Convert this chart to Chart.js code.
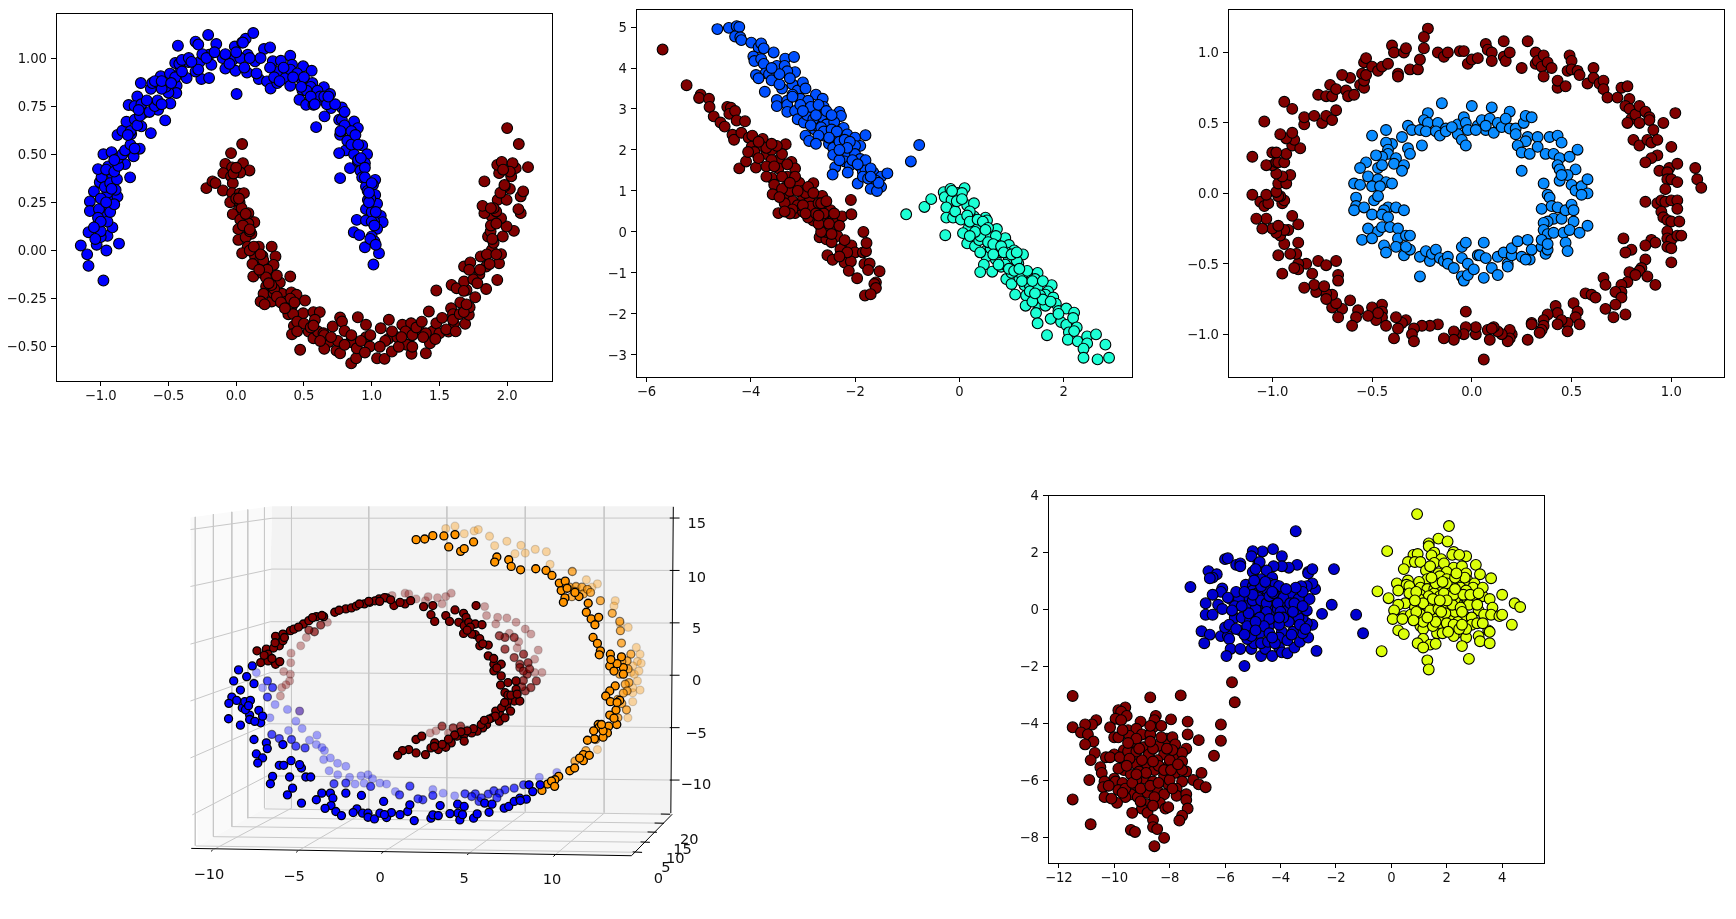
<!DOCTYPE html>
<html>
<head>
<meta charset="utf-8">
<title>Clustering toy datasets</title>
<script src="https://cdn.jsdelivr.net/npm/chart.js@4/dist/chart.umd.min.js"></script>
<style>
html, body { margin: 0; padding: 0; background: #fff; overflow: hidden; }
canvas { position: absolute; filter: blur(0.35px); }
canvas#spiral { filter: blur(0.7px); }
</style>
</head>
<body>
<script>
// two moons
const moonBlue = [[-1.147,.026],[-1.09,-.08],[-.98,-.156],[-1.09,.095],[-1.1,-.02],[-.865,.036],[-.958,0],[-1.03,.03],[-.95,.076],[-.914,.12],[-1.08,.255],[-1.05,.307],[-1.08,.205],[-1.03,.128],[-.98,.182],[-.945,.234],[-1.013,.215],[-.93,.286],[-.876,.28],[-.89,.315],[-1.007,.355],[-.994,.38],[-1.02,.423],[-.945,.437],[-.914,.393],[-.98,.5],[-.92,.511],[-.783,.38],[-.82,.449],[-.757,.489],[-.712,.529],[-.775,.605],[-.876,.6],[-.84,.622],[-.81,.669],[-.748,.68],[-.7,.645],[-.63,.61],[-.794,.756],[-.73,.8],[-.685,.714],[-.704,.87],[-.63,.84],[-.576,.731],[-.524,.676],[-.486,.764],[-.557,.905],[-.489,.919],[-.44,.856],[-.442,.818],[-.412,.934],[-.366,.896],[-.45,.974],[-.43,1.064],[-.352,.979],[-.3,1.085],[-.27,.979],[-.257,.891],[-.2,.896],[-.207,1.12],[-.147,1.073],[-.2,1.017],[-.183,.965],[-.08,.945],[-.025,.991],[.003,.813],[-.005,.934],[.08,.925],[-.01,1.06],[.07,1.1],[.126,1.13],[.044,1.081],[.085,1.017],[.139,.983],[.167,.891],[.205,1.047],[.25,1.055],[.227,.879],[.254,.842],[.303,.87],[.27,.983],[.33,.986],[.317,.931],[.399,1.012],[.412,.965],[.363,.896],[.399,.856],[.494,.957],[.483,.887],[.557,.934],[.489,.832],[.562,.87],[.467,.783],[.516,.757],[.57,.757],[.57,.792],[.647,.849],[.63,.783],[.693,.813],[.7,.74],[.652,.697],[.59,.641],[.78,.743],[.76,.679],[.87,.67],[.898,.636],[.767,.601],[.863,.575],[.93,.546],[.808,.52],[.966,.5],[.76,.506],[.84,.428],[.898,.463],[.95,.454],[.917,.414],[.767,.376],[1.026,.367],[.958,.333],[1.01,.341],[1.026,.289],[.972,.263],[1.04,.243],[.958,.215],[1.067,.18],[1.081,.147],[1.018,.151],[.89,.159],[.958,.156],[1.04,.113],[.868,.095],[.909,.08],[1,.073],[1.021,.047],[.95,.017],[1.054,-.014],[1.013,-.073],
  [-1.02,.17],[-1,.07],[-1,.1],[-1.04,.06],[-.95,.15],[-.93,.2],[-.9,.24],[-.95,.3],[-1,.27],[-.97,.33],[-.93,.35],[-.88,.37],[-.96,.42],[-.9,.41],[-.87,.44],[-.87,.48],[-.84,.5],[-.82,.52],[-.78,.55],[-.75,.53],[-.78,.62],[-.73,.65],[-.71,.7],[-.75,.75],[-.7,.76],[-.64,.72],[-.6,.75],[-.58,.78],[-.55,.76],[-.5,.82],[-.52,.85],[-.55,.84],[-.62,.87],[-.6,.88],[-.45,.9],[-.42,.97],[-.4,.99],[-.35,1],[-.3,.93],[-.28,.94],[-.25,1.02],[-.28,1.07],[-.1,1],[-.05,.97],[.03,1],[.05,1.08],[.1,1],[.15,.92],[.25,.95],[.28,.9],[.4,.94],[.45,.92],[.55,.85],[.5,.9],[.52,.83],[.6,.83],[.62,.8],[.65,.8],[.67,.76],[.73,.76],[.78,.68],[.8,.65],[.77,.62],[.85,.62],[.82,.57],[.87,.5],[.9,.47],[.92,.48],[.95,.43],[.93,.38],[.97,.31],[.99,.27],[1,.2],[.98,.25],[1,.15],[1.03,.2],[.99,.06],[1.03,.03],
  [-1,.15],[-1.05,.12],[-.96,.25],[-.92,.32],[-.9,.47],[-.8,.6],[-.72,.73],[-.66,.78],[-.55,.88],[-.48,.87],[-.4,.93],[-.33,.98],[-.22,1],[-.16,1.03],[-.08,1.02],[0,1.03],[.06,.95],[.18,1],[.32,.88],[.35,.95],[.42,.9],[.48,.85],[.55,.8],[.58,.76],[.68,.8],[.8,.72],[.85,.55],[.88,.6],[.9,.55],[.95,.38],[1,.35],[.98,.3],[1.02,.13]];
const moonRed = [[-.22,.324],[-.175,.359],[-.153,.35],[-.098,.312],[.044,.553],[-.038,.506],[-.08,.45],[-.03,.432],[.05,.454],[.098,.416],[-.095,.402],[.03,.405],[-.038,.385],[-.025,.35],[-.03,.298],[.025,.295],[.057,.298],[-.044,.251],[.025,.25],[.016,.208],[-.025,.189],[.09,.194],[.03,.16],[.106,.151],[.134,.147],[.016,.111],[.112,.087],[.016,.055],[.07,.069],[.085,.02],[.167,.02],[.262,.02],[.044,-.014],[.139,-.031],[.194,-.028],[.29,-.031],[.276,-.075],[.153,-.066],[.126,-.135],[.194,-.118],[.257,-.139],[.399,-.135],[.322,-.166],[.221,-.187],[.202,-.225],[.18,-.265],[.262,-.265],[.339,-.225],[.276,-.222],[.407,-.218],[.445,-.23],[.371,-.265],[.508,-.26],[.412,-.288],[.385,-.331],[.494,-.326],[.57,-.32],[.617,-.32],[.581,-.36],[.426,-.392],[.412,-.435],[.535,-.421],[.472,-.516],[.57,-.456],[.603,-.421],[.644,-.43],[.712,-.395],[.767,-.348],[.781,-.369],[.898,-.347],[.958,-.386],[.8,-.418],[.685,-.475],[.65,-.511],[.74,-.52],[.767,-.534],[.844,-.475],[.849,-.586],[.885,-.56],[.89,-.508],[.958,-.451],[.986,-.499],[1.067,-.404],[1.127,-.36],[1.122,-.459],[1.04,-.56],[1.095,-.563],[1.149,-.525],[1.19,-.451],[1.226,-.386],[1.259,-.49],[1.294,-.537],[1.291,-.378],[1.349,-.412],[1.4,-.534],[1.43,-.482],[1.422,-.317],[1.45,-.421],[1.477,-.378],[1.477,-.208],[1.567,-.421],[1.586,-.3],[1.6,-.331],[1.69,-.381],[1.608,-.381],[1.717,-.334],[1.654,-.27],[1.723,-.295],[1.59,-.179],[1.627,-.196],[1.7,-.205],[1.764,-.243],[1.682,-.161],[1.682,-.083],[1.728,-.062],[1.805,-.031],[1.795,-.123],[1.845,-.083],[1.845,-.2],[1.927,-.153],[1.94,-.066],[1.887,.003],[1.955,-.019],[1.859,.073],[1.968,.073],[1.878,.099],[2.05,.102],[1.996,.125],[1.955,.168],[1.887,.177],[1.832,.194],[1.919,.203],[1.818,.232],[1.93,.263],[1.996,.263],[2.1,.194],[2.083,.215],[2.1,.281],[2.118,.307],[2.02,.32],[1.982,.333],[1.832,.359],[1.941,.402],[2.03,.385],[2.063,.428],[1.927,.445],[1.96,.46],[2.04,.454],[2.154,.433],[2.086,.553],[2,.636],
  [.92,-.47],[.99,-.44],[.75,-.47],[.65,-.44],[.7,-.45],[1.1,-.47],[1.2,-.5],[1.25,-.42],[1.3,-.44],[1.33,-.4],[1.4,-.43],[1.37,-.37],[1.5,-.43],[1.52,-.35],[1.6,-.36],[1.55,-.41],[1.65,-.33],[1.68,-.21],[1.75,-.15],[1.72,-.1],[1.8,-.1],[1.85,-.02],[1.9,.04],[1.88,.13],[1.9,.22],[1.95,.3],[2.02,.41],[.28,-.2],[.3,-.24],[.4,-.25],[.42,-.33],[.45,-.37],[.5,-.38],[.55,-.4],[.1,.1],[.09,.14],[.1,0],[.2,-.05],[.23,-.1],[.04,.22],[.05,.13],[0,.27],[.3,-.13],[.26,-.18],[.22,-.14],
  [-.02,.4],[0,.43],[.02,.27],[.07,.19],[.1,.11],[.13,.02],[.12,-.07],[.18,-.02],[.17,-.1],[.24,-.17],[.21,-.28],[.33,-.27],[.36,-.3],[.43,-.27],[.45,-.42],[.57,-.39],[.62,-.47],[.8,-.49],[.85,-.44],[.95,-.53],[1.06,-.5],[1.15,-.42],[1.22,-.45],[1.3,-.5],[1.38,-.45],[1.47,-.46],[1.62,-.42],[1.68,-.32],[1.7,-.28],[1.78,-.17],[1.87,-.07],[1.92,-.02],[1.89,.06],[1.92,.14],[1.88,.22],[1.98,.34],[1.97,.42]];
const moonXTicks = [-1, -0.5, 0, 0.5, 1, 1.5, 2];
const moonXLabels = ['−1.0', '−0.5', '0.0', '0.5', '1.0', '1.5', '2.0'];
const moonYTicks = [-0.5, -0.25, 0, 0.25, 0.5, 0.75, 1];
const moonYLabels = ['−0.50', '−0.25', '0.00', '0.25', '0.50', '0.75', '1.00'];

// anisotropic blobs
const anisoRed = [[-5.69,4.45],[-5.23,3.58],[-4.96,3.35],[-4.99,3.27],[-4.8,3.25],[-4.79,3.05],[-4.71,2.82],[-4.45,3.05],[-4.38,3.03],[-4.41,2.88],[-4.3,2.95],[-4.27,2.72],[-4.11,2.7],[-4.58,2.67],[-4.5,2.57],[-4.35,2.37],[-4.32,2.25],[-4.18,2.42],[-4.04,2.3],[-3.97,2.35],[-3.77,2.27],[-3.8,2.1],[-3.33,2.14],[-3.98,2.08],[-3.93,1.95],[-3.7,1.9],[-3.6,2],[-3.45,1.77],[-3.22,1.71],[-4.22,1.55],[-4.09,1.72],[-3.9,1.57],[-3.6,1.75],[-3.47,1.55],[-3.6,1.32],[-3.3,1.35],[-3.55,1.15],[-3.29,1.15],[-3.07,1.2],[-2.8,1.19],[-3.58,.92],[-3.29,.9],[-3,.8],[-2.87,.83],[-2.63,.88],[-2.08,.78],[-3.47,.46],[-3.15,.46],[-3,.5],[-2.85,.62],[-2.55,.58],[-2.47,.53],[-2.8,.28],[-2.58,.28],[-2.42,.3],[-2.25,.38],[-2.07,.43],[-2.4,.1],[-2.65,.1],[-2.68,-.13],[-2.55,-.18],[-2.34,-.1],[-1.84,0],[-2.55,0],[-2.2,-.32],[-2.07,-.33],[-2.28,-.42],[-2,-.5],[-1.85,-.5],[-2.53,-.57],[-2.43,-.68],[-2.2,-.75],[-2.08,-.72],[-1.79,-.47],[-1.78,-.27],[-1.82,-.78],[-1.72,-.77],[-2.12,-.95],[-1.75,-.93],[-1.96,-1.13],[-1.53,-.96],[-1.6,-1.23],[-1.63,-1.27],[-1.6,-1.37],[-1.81,-1.55],[-1.7,-1.52],[-3,1],[-3.2,.75],[-2.95,.95],[-2.7,.7],[-2.6,.45],[-3.35,.7],[-3.1,.65],[-3.25,1],[-3.4,1.35],[-3.15,1.55],[-3.7,1.6],[-3.85,1.8],[-3.4,1.9],[-2.9,.35],[-2.75,.45],[-2.65,0],[-2.45,-.25],[-3.2,.55],[-3.4,1.05],
  [-3.3,1.65],[-3.55,1.6],[-3.7,1.35],[-3.15,1.35],[-3.45,.85],[-3.1,1],[-2.9,1.1],[-3,.65],[-2.8,.95],[-2.65,.7],[-2.55,.75],[-2.4,.45],[-2.7,.2],[-2.5,.2],[-2.3,.15],[-2.45,-.05],[-2.2,-.2],[-3.25,.45],[-3.35,.5],[-3.7,2.05],[-3.5,2.1],[-3.6,2.15],[-4.05,1.95],[-3.85,2.2],[-3.25,1.2],[-2.95,.45],[-2.7,.4],[-2.15,-.5],[-2.3,-.6]];
const anisoBlue = [[-4.64,4.95],[-4.42,4.98],[-4.27,5.02],[-4.22,5],[-4.3,4.77],[-4.2,4.75],[-4.18,4.68],[-3.99,4.62],[-3.85,4.5],[-3.8,4.6],[-3.75,4.48],[-3.95,4.28],[-3.93,4.17],[-3.8,4.22],[-3.75,4.1],[-3.56,4.38],[-3.34,4.23],[-3.17,4.27],[-3.5,4.05],[-3.35,4.05],[-3.15,3.9],[-3.3,3.92],[-3.72,3.87],[-3.65,3.85],[-3.6,3.7],[-3.9,3.83],[-3.85,3.75],[-3.4,3.5],[-3.73,3.42],[-3.2,3.6],[-3.1,3.45],[-3,3.65],[-2.95,3.5],[-2.75,3.35],[-3.5,3.22],[-3.3,3.2],[-3.05,3.25],[-2.9,3.2],[-2.62,3.25],[-3.5,3.07],[-3.3,3.1],[-3.3,2.93],[-3.15,2.95],[-2.8,3],[-3.1,2.75],[-2.98,2.67],[-2.92,2.85],[-2.65,2.8],[-2.3,2.93],[-2.27,2.83],[-2.55,2.62],[-2.4,2.68],[-2.77,2.5],[-2.95,2.35],[-2.88,2.22],[-2.6,2.35],[-2.4,2.3],[-2.22,2.54],[-2.5,2.15],[-2.42,2.05],[-2.42,1.88],[-2.25,2.15],[-2.15,2.38],[-2,2.3],[-1.9,2.1],[-1.8,2.36],[-2,2.1],[-2.14,1.92],[-2,1.9],[-1.9,1.78],[-2.2,1.72],[-2.1,1.62],[-1.9,1.6],[-1.8,1.75],[-2.38,1.58],[-2.43,1.4],[-2.14,1.45],[-1.85,1.47],[-1.8,1.5],[-1.95,1.18],[-1.65,1.45],[-1.5,1.35],[-1.38,1.43],[-1.6,1.25],[-1.5,1.1],[-1.7,1.05],[-1.58,1],[-.93,1.72],[-.77,2.12],[-2.75,2.6],[-2.6,3.05],[-2.8,2.75],
  [-3.2,3.35],[-3.05,3.1],[-2.85,3.05],[-3,2.95],[-2.75,2.85],[-2.85,2.6],[-2.65,2.55],[-2.6,2.45],[-2.45,2.5],[-2.35,2.45],[-2.5,2.3],[-2.3,2.2],[-2.2,2.25],[-2.1,2.2],[-2.15,2.05],[-2.05,1.75],[-1.95,1.65],[-1.85,1.35],[-1.75,1.3],[-1.7,1.55],[-1.55,1.2],[-3.45,3.6],[-3.25,3.75],[-3.45,3.85],[-3.6,4],[-3.2,3.3],[-2.7,3.1],[-2.55,2.95],[-2.45,2.85],[-2.7,2.35],[-2.75,2.15],[-2.3,1.75],[-2.3,2],[-1.7,1.35]];
const anisoTeal = [[-1.02,.43],[-.67,.61],[-.54,.8],[-.3,.97],[-.28,.85],[-.17,1.05],[-.15,.78],[-.25,.6],[-.25,.35],[-.27,-.08],[-.12,.35],[-.03,.95],[.1,1.07],[.05,.95],[-.14,1],[.15,.65],[.28,.7],[-.08,.5],[.03,.3],[.15,0],[.17,.08],[.28,.38],[.3,.3],[.5,.35],[.53,.28],[.72,.07],[.07,-.03],[.37,.03],[.6,-.13],[.15,-.28],[.3,-.35],[.7,-.33],[.88,-.15],[.95,-.32],[.38,-.2],[.5,-.47],[.52,-.6],[.7,-.67],[.95,-.65],[1.05,-.45],[1.22,-.55],[.47,-.8],[.4,-.98],[.63,-.97],[.8,-.85],[.88,-.8],[1.13,-.77],[1.1,-.7],[.9,-1.15],[1,-1.27],[1.15,-1.12],[1.25,-1.3],[1.4,-1.05],[1.5,-1],[1.45,-1.15],[1.35,-1.3],[1.5,-1.35],[1.77,-1.3],[1.7,-1.45],[1.07,-1.53],[1.28,-1.55],[1.65,-1.53],[1.8,-1.6],[1.27,-1.8],[1.5,-1.75],[1.65,-1.8],[1.85,-1.75],[1.47,-1.98],[1.9,-1.93],[1.75,-2.12],[1.5,-2.23],[2.05,-1.87],[2.2,-1.97],[1.95,-2.2],[2.05,-2.27],[2.18,-2.1],[2.1,-2.45],[2.25,-2.33],[2.2,-2.42],[1.68,-2.52],[2.08,-2.63],[2.27,-2.67],[2.45,-2.55],[2.62,-2.5],[2.45,-2.72],[2.38,-2.85],[2.8,-2.75],[2.38,-3.07],[2.65,-3.11],[2.87,-3.07],[.35,.1],[.7,-.1],[.4,-.5],[.75,-.5],[.9,-.5],[.6,-.4],[1,-1],[1.2,-1.05],[1.3,-.95],[1.55,-1.55],[1.4,-1.7],[.2,.5],
  [-.05,.75],[.05,.8],[.15,.4],[.2,.25],[.35,.3],[.45,.25],[.55,.1],[.4,-.1],[.55,-.25],[.65,-.3],[.8,-.35],[.85,-.5],[.65,-.55],[1,-.55],[1.1,-.5],[.75,-.8],[.95,-.9],[1.05,-.95],[1.15,-.9],[1.2,-1.2],[1.4,-1.2],[1.6,-1.2],[1.6,-1.65],[1.75,-1.7],[1.35,-1.45],[1.45,-1.5],[1.9,-2],[.3,0],[.2,-.1],[.5,.05]];
const anisoXTicks = [-6, -4, -2, 0, 2];
const anisoXLabels = ['−6', '−4', '−2', '0', '2'];
const anisoYTicks = [-3, -2, -1, 0, 1, 2, 3, 4, 5];
const anisoYLabels = ['−3', '−2', '−1', '0', '1', '2', '3', '4', '5'];

// concentric rings
const ringRed = [[-.22,1.17],[-.24,1.11],[-.24,1.03],[-.17,1],[-.14,.97],[-.12,1],[-.06,1.01],[-.04,1.01],[-.02,.92],[0,.95],[.03,.96],[.07,1.06],[.08,1.02],[.1,1],[.1,.94],[.16,1.08],[.16,.97],[.17,.94],[.19,1],[.25,.89],[.28,1.08],[.32,.92],[.32,1],[.33,.94],[.35,.9],[.36,.83],[.36,.98],[.38,.93],[.4,.89],[.43,.75],[.43,.8],[.47,.76],[.49,.98],[.5,.94],[.48,.87],[.5,.88],[.53,.87],[.54,.84],[.58,.78],[.61,.89],[.61,.82],[.64,.78],[.66,.8],[.66,.74],[.68,.68],[.73,.68],[.75,.75],[.78,.76],[.79,.67],[.77,.62],[.79,.6],[.8,.53],[.78,.5],[.82,.56],[.84,.5],[.84,.62],[.87,.58],[.89,.54],[.89,.52],[.91,.45],[.96,.5],[1.02,.57],[.81,.38],[.84,.34],[.88,.38],[.9,.36],[.93,.38],[.93,.27],[.9,.25],[.87,.22],[.94,.16],[1,.33],[.99,.18],[.98,.15],[.98,.1],[1,.1],[1.03,.21],[1.12,.18],[1.13,.1],[1.15,.04],[1.03,.08],[.97,.03],[.87,-.06],[.93,-.07],[.95,-.05],[.97,-.06],[1,-.05],[1.03,-.05],[.95,-.13],[.96,-.17],[.98,-.19],[1,-.2],[1.03,-.11],[1.04,-.2],[.98,-.27],[.98,-.32],[1,-.33],[1.03,-.3],[1.05,-.3],[.9,-.33],[.92,-.35],[.98,-.38],[1,-.39],[1,-.49],[.76,-.32],[.8,-.4],[.77,-.42],[.87,-.37],[.87,-.47],[.85,-.53],[.84,-.55],[.79,-.56],[.78,-.63],[.82,-.58],[.88,-.59],[.92,-.65],[.66,-.6],[.67,-.65],[.75,-.65],[.75,-.7],[.72,-.7],[.75,-.74],[.72,-.79],[.57,-.71],[.6,-.72],[.62,-.74],[.67,-.82],[.71,-.88],[.77,-.86],[.51,-.78],[.53,-.84],[.52,-.88],[.54,-.93],[.48,-.92],[.42,-.8],[.43,-.85],[.45,-.9],[.43,-.93],[.48,-.98],[.38,-.86],[.36,-.9],[.36,-.94],[.3,-.92],[.3,-.93],[.35,-.97],[.34,-.99],[.28,-1.04],[.2,-1],[.19,-.97],[.19,-1.03],[.18,-1.05],[.15,-1],[.13,-.98],[.11,-.95],[.08,-.97],[.09,-1.04],[.1,-.96],[.02,-1],[.02,-.95],[.06,-1.18],[-.03,-.84],[-.03,-.95],[-.04,-1],[-.08,-1],[-.09,-.98],[-.09,-1.04],[-.14,-1.03],[-.17,-.93],[-.21,-.94],[-.25,-.94],[-.29,-.96],[-.3,-1],[-.29,-1.05],[-.33,-.9],[-.35,-.92],[-.37,-.96],[-.38,-.88],[-.39,-1.03],[-.45,-.79],[-.45,-.84],[-.45,-.88],[-.43,-.94],[-.5,-.81],[-.48,-.9],[-.47,-.85],[-.52,-.87],[-.57,-.83],[-.58,-.88],[-.6,-.94],[-.61,-.76],[-.65,-.82],[-.67,-.88],[-.7,-.81],[-.68,-.78],[-.7,-.72],[-.73,-.71],[-.73,-.75],[-.78,-.7],[-.79,-.65],[-.74,-.66],[-.67,-.58],[-.67,-.62],[-.84,-.67],[-.8,-.57],[-.77,-.48],[-.73,-.51],[-.68,-.48],[-.83,-.5],[-.87,-.5],[-.87,-.54],[-.89,-.53],[-.88,-.43],[-.91,-.43],[-.97,-.44],[-.95,-.57],[-.87,-.35],[-.94,-.36],[-.96,-.3],[-.92,-.26],[-.94,-.26],[-.98,-.28],[-1,-.25],[-1.05,-.25],[-.97,-.23],[-.87,-.22],[-.9,-.16],[-1.03,-.18],[-1.08,-.18],[-.95,-.07],[-.94,-.05],[-.96,-.02],[-1.06,-.06],[-1.04,-.09],[-1.02,-.07],[-1.03,-.01],[-1.1,-.01],[-.97,-.02],[-.98,.01],[-.95,.08],[-.97,.07],[-.93,.07],[-.91,.13],[-.95,.12],[-.98,.14],[-1,.2],[-1.03,.2],[-.98,.22],[-.97,.22],[-.94,.22],[-.93,.28],[-1.1,.26],[-1,.29],[-.98,.29],[-.9,.34],[-.86,.32],[-.89,.38],[-.93,.39],[-.96,.42],[-.9,.43],[-1.04,.51],[-.84,.49],[-.84,.54],[-.79,.55],[-.75,.5],[-.73,.55],[-.7,.52],[-.68,.59],[-.94,.65],[-.9,.6],[-.77,.7],[-.73,.69],[-.71,.77],[-.7,.69],[-.68,.74],[-.63,.73],[-.62,.69],[-.59,.7],[-.61,.82],[-.65,.84],[-.56,.77],[-.54,.75],[-.54,.8],[-.55,.85],[-.53,.84],[-.54,.93],[-.53,.96],[-.5,.9],[-.47,.87],[-.45,.9],[-.42,.92],[-.37,.85],[-.37,.83],[-.4,1.05],[-.39,1],[-.34,1],[-.33,1.03],[-.31,.88],[-.27,.88],[-.26,.95]];
const ringBlue = [[-.15,.64],[0,.62],[.1,.61],[.19,.58],[-.22,.57],[-.24,.52],[-.22,.5],[-.17,.5],[-.13,.46],[-.32,.48],[-.3,.45],[-.26,.45],[-.23,.44],[-.18,.44],[-.16,.41],[-.13,.44],[-.07,.49],[-.04,.54],[-.03,.5],[-.02,.45],[.03,.48],[.05,.52],[.07,.45],[.09,.53],[.11,.43],[.13,.5],[.15,.47],[.17,.53],[.19,.46],[.22,.46],[.26,.5],[.27,.55],[.3,.54],[.22,.42],[.28,.4],[.27,.37],[.33,.4],[.23,.34],[.25,.29],[.29,.28],[.33,.33],[.37,.28],[.39,.4],[.41,.28],[.43,.41],[.45,.36],[-.07,.42],[-.05,.38],[-.03,.34],[.02,.45],[.07,.48],[-.1,.47],[-.5,.41],[-.43,.45],[-.35,.4],[-.32,.32],[-.25,.34],[-.31,.28],[-.4,.35],[-.43,.36],[-.42,.31],[-.42,.28],[-.45,.26],[-.48,.27],[-.38,.25],[-.39,.21],[-.34,.2],[-.35,.16],[-.53,.22],[-.56,.18],[-.47,.18],[-.45,.2],[-.52,.12],[-.47,.1],[-.43,.08],[-.4,.07],[-.59,.07],[-.56,.06],[-.5,.05],[-.46,.05],[-.58,-.03],[-.58,-.09],[-.59,-.12],[-.54,-.1],[-.49,-.05],[-.47,-.02],[-.42,-.1],[-.44,-.12],[-.38,-.1],[-.34,-.12],[-.5,-.15],[-.45,-.15],[-.42,-.17],[-.52,-.25],[-.47,-.27],[-.45,-.24],[-.41,-.24],[-.37,-.25],[-.55,-.33],[-.5,-.32],[-.44,-.37],[-.43,-.42],[-.37,-.32],[-.33,-.3],[-.31,-.3],[-.38,-.38],[-.34,-.44],[-.31,-.4],[-.33,-.38],[-.26,-.45],[-.23,-.41],[-.21,-.48],[-.2,-.43],[-.18,-.4],[-.16,-.46],[-.14,-.48],[-.12,-.45],[-.12,-.5],[-.09,-.53],[-.05,-.38],[-.03,-.35],[-.05,-.46],[-.02,-.5],[.03,-.44],[.04,-.44],[.06,-.35],[.07,-.46],[.13,-.45],[.16,-.42],[.18,-.5],[.2,-.44],[.2,-.39],[.23,-.34],[.25,-.45],[.28,-.33],[.29,-.47],[.3,-.4],[.27,-.47],[.35,-.38],[.37,-.43],[.38,-.4],[-.26,-.59],[-.05,-.59],[-.04,-.62],[-.02,-.58],[.01,-.54],[.06,-.6],[.1,-.53],[.13,-.58],[.18,-.52],[.25,.16],[.36,.07],[.38,-.01],[.39,-.03],[.35,-.11],[.4,-.09],[.43,-.1],[.41,-.18],[.38,-.2],[.36,-.21],[.45,-.18],[.47,-.12],[.5,-.08],[.51,-.12],[.51,-.2],[.36,-.26],[.38,-.29],[.41,-.28],[.46,-.28],[.49,-.26],[.54,-.28],[.58,-.23],[.35,-.33],[.47,-.35],[.48,-.41],[.38,-.36],[.44,.25],[.49,.26],[.53,.31],[.43,.2],[.44,.17],[.52,.17],[.48,.13],[.44,.09],[.5,.06],[.52,.02],[.55,.05],[.58,.1],[.58,0],[.55,-.01],[.45,.13]];
const ringXTicks = [-1, -0.5, 0, 0.5, 1];
const ringXLabels = ['−1.0', '−0.5', '0.0', '0.5', '1.0'];
const ringYTicks = [-1, -0.5, 0, 0.5, 1];
const ringYLabels = ['−1.0', '−0.5', '0.0', '0.5', '1.0'];

// swiss roll seen in 3d as (x on the back wall, z)
// near = solid, mid = half faded, far = most faded
const rollOrangeNear = [[-1.97,12.94],[-1.42,13],[-.9,13.32],[-.19,13.29],[.12,12.24],[.88,11.82],[1.11,12.08],[.52,13.42],[1.71,12.72],[3.2,11.28],[3.06,10.8],[3.96,11.02],[4.12,10.38],[4.72,10.06],[5.69,10.16],[6.35,10],[6.73,9.52],[7.2,8.79],[7.58,8.98],[7.32,8.08],[7.56,7.38],[7.46,6.96],[8.46,7.51],[9.05,6.87],[8.93,6.01],[9.24,5.37],[9.72,5.53],[9.48,4.82],[9.36,3.61],[9.64,3.04],[9.83,2.33],[9.76,1.95],[10.47,2.01],[10.43,.89],[11.18,1.76],[11.3,.73],[10.78,-1.02],[10.43,-1.5],[10.17,-1.98],[10.47,-2.52],[11.07,-2.4],[10.83,-3.32],[10.43,-3.8],[9.69,-4.7],[9.76,-4.95],[10.36,-4.86],[10.88,-4.7],[10.28,-5.5],[9.45,-6.07],[10,-5.91],[8.74,-7.57],[8.74,-8.15],[9.12,-7.64],[7.87,-9.11],[8.18,-8.85],[7.16,-9.65],[6.45,-10.38],[6.09,-10.99],[6.92,-9.97],[10.7,.4],[10.9,1.1],[10.5,1.5],[11.3,.1],[10.9,-2.6],[10.7,-4.1],[10,-5.3],[9.9,-4.7],[9,-6.2],[9.4,-5.3],[8.5,-7.9],[6.7,-10.1],[6.9,-10.6],[7.7,8.3],[8.2,7.9]];
const rollOrangeMid = [[8.03,9.9],[7.87,8.4],[8.27,8.47],[8.65,8.4],[8.74,7.76],[9.83,7.12],[9,8.2],[9.2,7.9],[8,7.5],[8.2,8],[10.59,5.91],[11.07,5.14],[11.11,4.25],[11.18,3.07],[11.78,2.01],[11.54,1.37],[11.07,.1],[11.2,1.3],[11.6,.6],[11.66,-.7],[11.42,-.86],[11.54,-1.5],[11.3,-1.7],[10.95,-2.3],[11.2,-2.7],[10.95,-4.06],[9.53,-6.13],[8.9,-7.2],[8.2,-8.2],[11.5,-3.3]];
const rollOrangeFar = [[-.07,13.99],[.52,14.22],[1.11,13.51],[1.75,13.77],[2.01,13.9],[2.73,13.26],[3.84,12.78],[4.74,12.4],[5.66,12.01],[6.37,11.79],[3.06,12.36],[5.02,11.66],[4.36,11.6],[6.61,10.58],[8.93,9.11],[9.29,8.4],[9.64,8.72],[10.78,7.12],[11.61,4.57],[12.13,2.65],[12.37,2.01],[12.2,1.31],[12.44,1.15],[11.78,.26],[12.2,-.54],[12.37,-1.41],[11.9,-1.66],[11.9,-2.52],[11.59,-4.06],[9.64,-7.09],[11.9,.9],[12,.1],[11.9,-1.2],[10.7,6.6],[11.1,4.9],[12.3,.4]];
const rollRedNear = [[-12.16,2.33],[-11.56,2.49],[-10.97,3.71],[-10.5,3.93],[-10.02,4.25],[-9.19,4.89],[-8.84,5.21],[-8.36,5.59],[-7.89,5.59],[-7.18,6.01],[-6.47,6.33],[-6.11,6.42],[-5.28,6.81],[-4.93,6.96],[-4.34,7.28],[-3.86,7.38],[-3.39,6.65],[-2.68,6.81],[-2.32,7.12],[-1.49,6.55],[-.9,6.65],[-1.02,5.78],[-.78,5.14],[-.07,5.69],[.17,5.14],[.52,6.23],[1.07,5.91],[1.23,5.53],[.76,5.05],[1.11,4.73],[1.87,6.65],[1.4,5.05],[1.82,4.89],[2.25,4.82],[1.07,3.99],[1.82,3.87],[1.59,3.93],[2.11,2.81],[2.65,2.88],[2.65,1.85],[3.01,1.05],[3.48,1.05],[3.01,.42],[3.48,-.06],[3.44,-.93],[3.72,-1.66],[3.91,-.7],[4.43,-.54],[4.43,-1.34],[4.31,-2.46],[4.67,-2.46],[3.84,-2.94],[3.36,-3.58],[3.13,-3.42],[2.89,-4.06],[3.36,-4.38],[3.72,-4.06],[4.08,-3.42],[2.54,-4.7],[2.3,-5.02],[1.94,-5.34],[1.59,-5.5],[1.11,-5.65],[1.11,-6.29],[.64,-5.81],[.28,-6.45],[-.07,-6.87],[-.55,-7.09],[-1.02,-6.93],[-1.37,-7.57],[-1.97,-6.13],[-1.61,-5.81],[-.78,-6.45],[-1.97,-7.41],[-2.44,-7.09],[-2.84,-7.19],[-3.15,-7.64],[-11.92,1.21],[-11.45,1.37],[-10.97,1.05],[-10.73,2.81],[-10.5,3.29],[-11.45,2.01],[-5.8,6.6],[-4.6,7.1],[-4,7.4],[-8.6,5.5],[-9.8,4.4],[-11.1,2.6],[3.9,-2.4],[3.5,-3.1],[3.1,-3.9],[2.7,-4.2],[2.2,-4.7],[1.7,-5.1],[1.3,-5.3],[.9,-5.4],[.5,-5.7],[.1,-6.1],[-.3,-6.6],[-.8,-6.8],[2.4,-4.3],[3.9,-1.9],[4.1,-1.9],[4.5,-1.8],[3.7,-2.6],[1.5,4.6],[1.3,4.3],[2.1,3.5],[2.3,3],[3,1.6],[3.2,.7],[-9.5,4.6],[-8,5.7],[-6.9,6.2],[-5.6,6.8],[-5,7.05],[-4.3,7.05],[-3.6,7.2],[-3,6.95],[-11.7,1.9],[-11.2,1.6],[-10.7,1.3],[-11,3.1],[-10.4,3.6]];
const rollRedMid = [[3.72,3.61],[4.31,3.61],[3.36,3.77],[3.72,2.49],[4.31,1.69],[4.67,1.05],[5.14,.1],[4.67,.73],[4.91,2.01],[5.02,-1.5],[5.38,-1.18],[5.73,-.54],[4.9,.4],[4.8,-1.1],[4.9,-.5],[5.2,1.2],[5.3,.6],[-8.48,4.15],[-8.08,4.79],[-8.84,4.31],[.4,-5.02],[-.31,-4.86],[.88,-4.86]];
const rollRedFar = [[-3.51,7.6],[-2.68,7.83],[-2.44,7.76],[-1.97,7.28],[-1.37,7.12],[-.07,7.51],[.28,7.83],[-.31,6.81],[2.42,6.55],[2.54,5.69],[3.25,5.53],[3.84,5.46],[4.43,5.05],[5.02,4.41],[5.38,3.93],[5.85,2.4],[5.62,1.53],[6.09,.26],[5.62,.26],[3.13,4.89],[-1.07,-5.5],[-2.01,-6.13],[-7.65,5.05],[-9.36,2.81],[-9.98,2.11],[-10.45,.35],[-10.02,.1],[-10.07,-.54],[-10.57,-1.18],[-10.66,-1.98],[-9.43,-3.42],[-.6,7.4],[-1.2,7.5],[4,4],[4.6,3.2],[4.5,2.6],[-.7,-5.3],[.1,-5.5],[-1.6,-5.9],[-9,3.6],[-10,1.2],[-10.3,-.9]];
const rollBlueNear = [[-13.34,.51],[-12.46,.89],[-13.65,-.54],[-12.82,-.13],[-12.35,-.8],[-13.22,-1.41],[-13.77,-2.08],[-13.46,-2.4],[-13.96,-2.68],[-13.1,-3.1],[-12.94,-2.52],[-12.58,-2.4],[-12.04,-3.35],[-12.63,-3.8],[-13.98,-4.15],[-13.22,-4.76],[-11.92,-4.54],[-12.63,-4.22],[-12.35,-6.13],[-11.56,-6.45],[-10.5,-6.61],[-12.2,-7.51],[-11.8,-7.89],[-12.11,-8.37],[-10.73,-8.59],[-10.45,-8.59],[-9.98,-8.15],[-9.31,-8.85],[-9.43,-8.53],[-9.03,-9.71],[-8.72,-9.71],[-11.16,-9.65],[-11.3,-10.35],[-10.07,-9.71],[-9.88,-10.77],[-10.21,-11.41],[-9.31,-12.2],[-8.36,-11.88],[-8.01,-11.25],[-7.46,-11.25],[-7.3,-11.73],[-7.42,-12.43],[-7.11,-13],[-6.75,-13.39],[-5.76,-12.75],[-5.4,-13.16],[-5.05,-13.16],[-5.05,-13.55],[-4.64,-13.71],[-4.29,-13.16],[-3.86,-13.58],[-3.55,-13.1],[-2.51,-13],[-2.09,-13.87],[-1.02,-13.64],[-.9,-13.32],[-.55,-13.39],[.71,-13.16],[.83,-13.8],[1.71,-13.64],[1.94,-13.23],[2.7,-13.07],[3.67,-12.68],[3.96,-12.52],[4.31,-12.04],[4.67,-11.73],[5.09,-11.82],[-6.47,-11.25],[-5.47,-11.47],[-4.05,-12.04],[-2.37,-12.36],[-.43,-12.43],[.69,-12.3],[1.11,-12.52],[2.42,-12.2],[2.89,-12.3],[5.97,-10.45],[5.26,-10.45],[-12.9,-3.3],[-12.7,-2.9],[-11.8,-3.9],[-12.3,-4.4],[-11.5,-7],[-7.8,-12.7],[-6,-13.1],[-4,-13.3],[-3,-13.3],[.2,-13.2],[1,-13.3],[4.7,-11.95],[5.5,-11.1]];
const rollBlueMid = [[-11.49,-.54],[-11.16,-1.18],[-11.49,-2.08],[-11.21,-5.65],[-10.73,-6.04],[-9.95,-6.13],[-9.67,-6.77],[-9.08,-6.93],[-7.23,-10.35],[-6.47,-10.29],[-4.88,-10.61],[-2.37,-10.58],[1.16,-11.31],[1.82,-11.31],[2.65,-11.34],[3.01,-11.02],[3.72,-10.93],[4.31,-10.77],[4.91,-10.45],[-1.54,-11.88],[1.59,-11.57],[2.06,-12.04],[3.36,-11.25],[2.2,-11.7],[3.2,-11.7],[-3.03,-11.41],[-1.85,-11.79],[-.9,-11.47]];
const rollBlueFar = [[-12.2,.26],[-10.21,-3.26],[-9.67,-4.38],[-9.43,-3.42],[-10.14,-5.27],[-9.27,-5.08],[-8.32,-5.72],[-8.36,-6.61],[-7.84,-7.19],[-7.89,-8.05],[-7.46,-7.89],[-11.33,-4.06],[-7.54,-9.11],[-6.99,-9.49],[-6.47,-8.69],[-6.23,-9.74],[-5.88,-10.38],[-5.05,-9.49],[-4.76,-9.87],[-4.29,-10.29],[-3.86,-10.38],[-.24,-11.25],[5.92,-9.74],[7.04,-9.27],[-11.8,-1.2],[-11,-2.8],[-8.8,-6.2],[-8,-6.9],[-7,-8.4],[-5.5,-9.6],[-5.3,-10.3],[-3.3,-11.1],[-.9,-10.9],[.5,-11.5]];

// the box of the 3d view in the same (x, z) plane
const paneBack = [[-11.2,16.13],[14.5,16.13],[14.33,-13.26],[-11.63,-12.7]];
const paneLeft = [[-16.42,15.05],[-11.2,16.13],[-11.63,-12.7],[-15.95,-16.3]];
const paneFloor = [[-15.95,-16.3],[-11.63,-12.7],[14.33,-13.26],[11.8,-17.2]];
const roomGrid = [
  [[-9.95,16.1],[-9.95,-12.7]], [[-5,16.1],[-5,-12.8]], [[0,16.1],[0,-12.9]], [[5.02,16.1],[5.02,-13]], [[10.07,16.1],[10.07,-13.1]],
  [[-11.2,14.98],[14.4,15]], [[-11.2,10.13],[14.4,10]], [[-11.3,5.11],[14.4,4.98]], [[-11.3,.26],[14.4,0]], [[-11.4,-4.63],[14.4,-5]], [[-11.5,-9.6],[14.4,-10]],
  [[-16.42,13.9],[-11.2,14.98]], [[-16.42,8.47],[-11.2,10.13]], [[-16.42,2.97],[-11.3,5.11]], [[-16.42,-2.46],[-11.3,.26]], [[-16.42,-7.89],[-11.4,-4.63]], [[-16.3,-13.32],[-11.5,-9.6]],
  [[-16.11,15.11],[-16.11,-16.26]], [[-14.95,15.37],[-14.95,-15.4]], [[-13.77,15.59],[-13.77,-14.44]], [[-12.75,15.81],[-12.75,-13.64]], [[-11.68,16],[-11.68,-12.68]],
  [[-15,-16.68],[-9.95,-12.68]], [[-9.55,-16.77],[-5,-12.84]], [[-4.1,-16.9],[0,-13]], [[1.4,-17],[5.02,-13.07]], [[6.92,-17.16],[10.07,-13.16]],
  [[-11.68,-12.75],[14.27,-13.26]], [[-12.75,-13.58],[13.91,-14.12]], [[-13.77,-14.44],[13.44,-14.98]], [[-14.95,-15.4],[12.96,-15.94]], [[-16.07,-16.29],[12.49,-16.9]]
];
const roomAxes = [
  [[-16.37,-16.52],[11.82,-17.22]], [[14.5,16.07],[14.34,-13.16]], [[11.82,-17.22],[14.43,-13.26]],
  [[14.27,15],[14.9,15]], [[14.27,10],[14.9,10]], [[14.27,5],[14.9,5]], [[14.27,0],[14.9,0]], [[14.27,-5],[14.9,-5]], [[14.27,-10],[14.9,-10]],
  [[-15,-16.68],[-15.1,-16.8]], [[-9.55,-16.77],[-9.65,-16.9]], [[-4.1,-16.9],[-4.2,-17]], [[1.4,-17],[1.3,-17.15]], [[6.92,-17.16],[6.82,-17.3]],
  [[11.9,-16.85],[12.5,-16.9]], [[12.4,-15.9],[13,-15.94]], [[12.85,-14.95],[13.45,-14.98]], [[13.3,-14.1],[13.9,-14.12]], [[13.7,-13.24],[14.3,-13.26]]
];
const rollTickLabels = ['15', '10', '5', '0', '−5', '−10', '−10', '−5', '0', '5', '10', '0', '5', '10', '15', '20'];
const rollTickSpots = [[16,14.38],[16,9.3],[16,4.35],[16,-.6],[15.95,-5.6],[15.95,-10.5],[-15.24,-19.1],[-9.79,-19.26],[-4.27,-19.35],[1.11,-19.45],[6.73,-19.58],[13.55,-19.46],[14.03,-18.43],[14.62,-17.54],[15.09,-16.68],[15.52,-15.72]];

// three round blobs
const blobRed = [[-11.5,-3.05],[-8.7,-3.1],[-7.6,-3.03],[-5.75,-2.57],[-5.65,-3.27],[-9.6,-3.45],[-9.85,-3.55],[-9.75,-3.6],[-9.55,-3.75],[-9.95,-3.85],[-9.75,-3.9],[-10.65,-3.9],[-10.8,-4.05],[-11.05,-4.05],[-11.5,-4.15],[-11.2,-4.33],[-10.95,-4.4],[-10.15,-4.15],[-8.5,-3.75],[-8.55,-3.9],[-9.05,-3.95],[-7.95,-3.87],[-7.35,-3.95],[-6.15,-4.05],[-9.5,-4.25],[-9.2,-4.2],[-8.6,-4.15],[-8.3,-4.1],[-10,-4.5],[-9.85,-4.5],[-9.45,-4.45],[-9,-4.4],[-8.7,-4.4],[-8.1,-4.55],[-7.9,-4.5],[-7.35,-4.4],[-6.15,-4.62],[-6.95,-4.6],[-10.75,-4.65],[-11.05,-4.75],[-9.35,-4.75],[-8.95,-4.85],[-8.4,-4.8],[-7.8,-4.75],[-7.4,-4.9],[-9.65,-4.95],[-10.7,-5.05],[-10,-5.1],[-8.75,-5.1],[-8.2,-5.1],[-7.75,-5.2],[-7.55,-5.05],[-10.85,-5.3],[-10.3,-5.2],[-10.15,-5.2],[-9.65,-5.3],[-9.3,-5.2],[-8.45,-5.3],[-6.4,-5.15],[-7.55,-5.35],[-9.2,-5.45],[-8.8,-5.5],[-8.05,-5.5],[-10.5,-5.55],[-9.65,-5.65],[-8.55,-5.65],[-7.6,-5.6],[-7.8,-5.75],[-10.45,-5.75],[-9.4,-5.8],[-8.9,-5.95],[-8.2,-5.85],[-6.85,-5.75],[-10,-5.95],[-10.9,-6],[-10.35,-6.05],[-9.95,-6.05],[-9.7,-6.1],[-8.6,-6.05],[-8.05,-6.15],[-7.55,-6.05],[-7.15,-6],[-6.95,-6.15],[-6.7,-6.25],[-10.4,-6.25],[-9.85,-6.35],[-9.25,-6.35],[-8.45,-6.35],[-7.75,-6.3],[-9.4,-6.5],[-8.8,-6.45],[-8.2,-6.5],[-7.75,-6.55],[-7.4,-6.5],[-11.5,-6.68],[-10.35,-6.6],[-9.6,-6.6],[-9.15,-6.6],[-9.9,-6.8],[-8.85,-6.85],[-8.35,-6.8],[-7.4,-6.7],[-9,-7],[-8.15,-7],[-8.05,-6.95],[-7.35,-7],[-9.35,-7.15],[-8.8,-7.15],[-7.55,-7.25],[-7.65,-7.42],[-8.6,-7.4],[-10.85,-7.55],[-9.4,-7.75],[-9.25,-7.82],[-8.6,-7.65],[-8.45,-7.72],[-8.2,-8.03],[-8.55,-8.32],[-9.8,-5.2],[-9.5,-5],[-9,-5.3],[-8,-5.3],[-9.2,-5],[-8.6,-4.9],[-9.2,-6],[-9.6,-6.3],[-8,-6],[-7.4,-5.7],[-8.4,-5.5],[-7.9,-4.95],[-7.55,-5.65],
  [-9.2,-4.55],[-8.7,-4.65],[-8.3,-4.5],[-9.45,-5.25],[-9.1,-5.7],[-8.6,-5.35],[-8.2,-5.65],[-9.85,-5.6],[-9.35,-6.1],[-9.05,-6.3],[-8.7,-6.2],[-8.4,-6.1],[-7.9,-6.3],[-9.7,-6.45],[-9.05,-6.75],[-8.55,-6.6],[-8.6,-6.9],[-7.95,-5.65],[-7.7,-5.45],[-9.5,-4.7],[-9.1,-4.9],[-8.85,-5.75],[-10.2,-6.2],[-10.1,-6.65],[-9.55,-5.5],[-8.1,-4.9],[-8.7,-4.1],[-9.7,-4.25],[-9.2,-5.8]];
const blobBlue = [[-3.45,2.73],[-2.07,1.4],[-4.27,2.1],[-3.95,1.85],[-4.65,2.02],[-5,2.03],[-5.05,1.85],[-4.8,1.6],[-6,1.75],[-5.9,1.78],[-5.6,1.55],[-5.45,1.6],[-5.45,1.5],[-6.6,1.33],[-6.3,1.22],[-6.45,1.1],[-6.55,1.08],[-7.25,.77],[-6.1,.72],[-6.15,.6],[-6.45,.5],[-6.7,.2],[-6.7,-.2],[-6.45,-.2],[-6.25,.15],[-6.1,0],[-6.85,-.78],[-6.55,-.9],[-6.15,-.95],[-5.9,-.95],[-5.85,-1.05],[-6.75,-1.2],[-5.8,-1.4],[-5.95,-1.65],[-5.45,-1.4],[-5.3,-2],[-5.05,-1.4],[-4.7,-1.65],[-4.95,-1.2],[-4.55,-1.4],[-4.3,-1.65],[-4.05,-1.35],[-3.95,-1.52],[-3.75,-1.55],[-3.5,-1.35],[-3.3,-1.15],[-2.7,-1.47],[-3,-1],[-3.2,-.85],[-2.85,-.55],[-3.05,-.5],[-2.5,-.17],[-2.15,.15],[-2.95,.35],[-2.75,.7],[-2.85,.9],[-3.05,.8],[-3.25,.8],[-3,1.3],[-3,1.25],[-2.85,1.4],[-3.4,1.55],[-3.7,1.45],[-3.95,1.5],[-4.25,1.5],[-4.75,1.65],[-5,1.3],[-4.9,1.4],[-4.5,1.35],[-4.3,1.1],[-4.7,1.05],[-4.4,.9],[-4.2,.85],[-4.05,.8],[-5.25,.85],[-5,.8],[-5,.65],[-4.85,.55],[-5.4,.45],[-5.15,.42],[-4.65,.55],[-4.5,.45],[-4.15,.45],[-3.6,.45],[-3.35,.35],[-3.2,.6],[-3.45,.75],[-5.8,.35],[-5.5,.35],[-5.65,.1],[-5.2,.1],[-4.85,.15],[-4.55,.1],[-4.3,.3],[-3.85,.1],[-3.75,-.05],[-3.2,-.3],[-3.05,-.05],[-5.65,-.3],[-5.3,-.35],[-4.95,-.15],[-4.65,-.15],[-4.2,-.25],[-3.6,-.35],[-3.35,-.3],[-6,-.65],[-5.85,-.55],[-5.45,-.75],[-5,-.6],[-4.75,-.85],[-4.4,-.55],[-3.95,-.8],[-3.55,-.8],[-3.7,-.45],[-5.2,-1.05],[-5.05,-.95],[-4.7,-1.2],[-4.45,-1.15],[-4.05,-1],[-3.75,-1.1],[-5.4,-.3],[-5.1,-.4],[-4.8,.4],[-4.3,-.05],[-4.1,0],[-4.5,.7],[-5.6,.6],[-4.9,0],[-5.2,-.6],[-3.9,.4],[-3.4,0],[-3.6,-.9],[-4.2,-1.2],[-1.27,-.2],[-1.02,-.85],
  [-5,.3],[-4.7,.3],[-4.5,.2],[-4.4,.45],[-4.25,.55],[-4.1,.2],[-4,-.1],[-3.9,-.3],[-4.5,-.1],[-4.75,-.3],[-5.15,-.15],[-5.4,.1],[-5,.5],[-4.4,-.35],[-4.05,-.55],[-4.6,-.6],[-4.9,-.45],[-5.6,-.7],[-5.3,-.9],[-4.9,-.75],[-4.4,-.85],[-4.3,-1],[-3.8,.7],[-3.65,.2],[-3.5,.2],[-3.2,.1],[-3.55,-.1],[-3.3,-.55],[-3.1,-.7],[-4.7,.8],[-4.55,.95],[-4.95,1],[-5.3,.6],[-5.75,-.05],[-5.9,.4],[-4.05,-.3],[-4.3,.6]];
const blobYellow = [[.93,3.33],[2.08,2.91],[-.15,2.03],[1.35,2.3],[1.35,2.2],[1.7,2.47],[2.03,2.37],[2.25,2],[2.2,1.9],[2.7,1.85],[2.45,1.9],[.8,1.9],[.95,1.93],[1.55,1.98],[1.45,1.88],[1.8,1.75],[.6,1.65],[.85,1.65],[1.05,1.65],[1.55,1.62],[1.9,1.6],[3.05,1.55],[2.25,1.45],[2.55,1.5],[.45,1.4],[1.25,1.35],[1.7,1.25],[2,1.3],[2.7,1.25],[3.2,1.22],[1.75,1.15],[2,1.05],[1.3,1.05],[.6,1],[.2,.9],[.55,.85],[1,.95],[2.5,.9],[2.75,1],[3,.9],[3.6,1.08],[.25,.65],[.65,.8],[1.05,.75],[1.3,.7],[1.55,.7],[1.75,.75],[2.15,.8],[2.5,.75],[2.95,.75],[1.55,.55],[2.05,.65],[2.7,.65],[4,.5],[-.5,.62],[.65,.55],[1.05,.5],[1.35,.45],[1.75,.45],[2.4,.55],[3.3,.45],[3.55,.35],[-.1,.38],[.5,.2],[.25,.15],[1,.35],[1.9,.35],[2.45,.3],[2.75,.35],[3,.35],[4.45,.2],[4.65,.07],[.1,-.05],[.85,.05],[1.55,.15],[2,.05],[2.4,.15],[2.8,.15],[3.65,.05],[3.15,-.05],[1.2,-.15],[.45,-.25],[.7,-.2],[.05,-.35],[.4,-.35],[1.15,-.2],[1.55,-.2],[1.85,-.3],[2.1,-.35],[2.65,-.25],[2.9,-.3],[3.35,-.2],[3.6,-.2],[3.9,-.25],[4,-.2],[1.05,-.6],[1.15,-.7],[1.7,-.65],[2.05,-.6],[2.4,-.45],[2.9,-.55],[3.1,-.5],[4.35,-.55],[.25,-.75],[.45,-.88],[1.65,-.85],[2.35,-.85],[2.25,-.95],[2.7,-1],[3.15,-.95],[3.5,-.75],[3.55,-.8],[1.15,-1.05],[.95,-1.2],[1.4,-1.25],[1.6,-1.22],[1.15,-1.35],[2.55,-1.3],[3.2,-1.13],[3.55,-1.2],[-.35,-1.48],[1.3,-1.8],[1.35,-2.12],[2.8,-1.75],[1.5,-.6],[2,.9],[2.3,-.1],[1.4,1.5],[2.3,.35],[3.3,.75],[1.3,.1],[1.6,-.45],[2.7,-.7],[.9,-.1],[1.9,.55],
  [1.15,.2],[1.4,-.05],[1.7,0],[1.95,-.15],[2.2,.15],[2.5,.05],[2.55,-.1],[2.25,.5],[2,.3],[2.6,.5],[2.85,.5],[2.65,1.1],[2.3,1.1],[1.6,.9],[1.85,.95],[1.45,1.1],[2.35,1.25],[1.5,.35],[1.8,-.1],[2,-.5],[2.25,-.55],[2.45,-.7],[1.85,-.85],[2.05,-.8],[1.15,-.45],[1.3,-.3],[.8,-.4],[.9,.6],[.85,.3],[3.15,.55],[3.1,.15],[3.3,-.5],[2.55,-.55],[1.75,.3],[2.3,.7]];
const blobXTicks = [-12, -10, -8, -6, -4, -2, 0, 2, 4];
const blobXLabels = ['−12', '−10', '−8', '−6', '−4', '−2', '0', '2', '4'];
const blobYTicks = [-8, -6, -4, -2, 0, 2, 4];
const blobYLabels = ['−8', '−6', '−4', '−2', '0', '2', '4'];

const DARK_RED = '#800000';
const FONT = 'DejaVu Sans';
const TICK_SIZE = 13.2;

function toPoints(list) {
    return list.map(p => ({ x: p[0], y: p[1] }));
}

function makeCanvas(id, left, top, width, height) {
    const c = document.createElement('canvas');
    c.id = id;
    c.width = width;
    c.height = height;
    c.style.left = left + 'px';
    c.style.top = top + 'px';
    c.style.width = width + 'px';
    c.style.height = height + 'px';
    document.body.appendChild(c);
    return c.getContext('2d');
}

// closes the box round the axes, like a matplotlib frame, and writes the
// y labels itself because chart.js sits them a little too high on the tick
const framePlugin = {
    id: 'frame',
    afterDraw(chart) {
        const a = chart.chartArea, ctx = chart.ctx, yScale = chart.scales.y;
        ctx.save();
        ctx.strokeStyle = '#000';
        ctx.lineWidth = 1;
        ctx.strokeRect(a.left + 0.5, a.top + 0.5, a.right - a.left, a.bottom - a.top);
        ctx.font = TICK_SIZE + 'px "' + FONT + '"';
        ctx.fillStyle = '#111';
        ctx.textAlign = 'right';
        ctx.textBaseline = 'alphabetic';
        yScale.ticks.forEach(t => {
            ctx.fillText(t.label, a.left - 9, yScale.getPixelForValue(t.value) + TICK_SIZE * 0.36);
        });
        ctx.restore();
    }
};

function flatAxis(position, min, max, ticks, labels, fit) {
    return {
        type: 'linear',
        position: position,
        min: min,
        max: max,
        afterBuildTicks(s) { s.ticks = ticks.map(v => ({ value: v })); },
        afterFit(s) { if (position === 'left') s.width = fit; else s.height = fit; },
        ticks: {
            autoSkip: false,
            maxRotation: 0,
            minRotation: 0,
            padding: 3,
            color: position === 'left' ? 'rgba(0,0,0,0)' : '#111',
            font: { family: FONT, size: TICK_SIZE },
            callback(v, i) { return labels[i]; }
        },
        grid: { drawOnChartArea: false, drawTicks: true, tickLength: 5, color: '#000' },
        border: { color: '#000' }
    };
}

// box is the axes rectangle in page pixels: left, top, right, bottom
function scatterPanel(id, box, xr, yr, xTicks, xLabels, yTicks, yLabels, series) {
    const ml = 50, mb = 36, mt = 14, mr = 7;
    const ctx = makeCanvas(id, box[0] - ml, box[1] - mt, box[2] - box[0] + ml + mr, box[3] - box[1] + mt + mb);
    new Chart(ctx, {
        type: 'scatter',
        data: {
            datasets: series.map(s => ({
                data: toPoints(s.points),
                backgroundColor: s.color,
                borderColor: '#000',
                borderWidth: 1.1,
                pointRadius: 5.4,
                clip: false
            }))
        },
        options: {
            responsive: false,
            animation: false,
            events: [],
            layout: { padding: { top: mt, right: mr, left: 0, bottom: 0 } },
            plugins: { legend: { display: false }, tooltip: { enabled: false } },
            scales: {
                x: flatAxis('bottom', xr[0], xr[1], xTicks, xLabels, mb),
                y: flatAxis('left', yr[0], yr[1], yTicks, yLabels, ml)
            }
        },
        plugins: [framePlugin]
    });
}

scatterPanel('moons', [56, 13, 552, 381], [-1.33, 2.331], [-0.678, 1.234],
    moonXTicks, moonXLabels, moonYTicks, moonYLabels,
    [{ points: moonBlue, color: '#0000ff' }, { points: moonRed, color: DARK_RED }]);

scatterPanel('aniso', [636, 9, 1132, 377], [-6.2, 3.31], [-3.54, 5.44],
    anisoXTicks, anisoXLabels, anisoYTicks, anisoYLabels,
    [{ points: anisoRed, color: DARK_RED }, { points: anisoBlue, color: '#0050ff' }, { points: anisoTeal, color: '#1cffd5' }]);

scatterPanel('rings', [1228, 9, 1724, 377], [-1.222, 1.264], [-1.304, 1.309],
    ringXTicks, ringXLabels, ringYTicks, ringYLabels,
    [{ points: ringRed, color: DARK_RED }, { points: ringBlue, color: '#0a8cff' }]);

scatterPanel('blobs', [1048, 495, 1544, 863], [-12.39, 5.51], [-8.91, 4],
    blobXTicks, blobXLabels, blobYTicks, blobYLabels,
    [{ points: blobRed, color: DARK_RED }, { points: blobBlue, color: '#0000d0' }, { points: blobYellow, color: '#dcff0a' }]);

// segments joined with gaps so one dataset carries a whole set of lines
function segments(list) {
    const out = [];
    list.forEach(seg => {
        out.push({ x: seg[0][0], y: seg[0][1] }, { x: seg[1][0], y: seg[1][1] }, { x: null, y: null });
    });
    return out;
}

function pane(list, color, order) {
    return {
        data: toPoints(list.concat([list[0]])),
        showLine: true,
        fill: 'shape',
        backgroundColor: color,
        borderWidth: 0,
        pointRadius: 0,
        order: order
    };
}

function lines(list, color, width, order) {
    return {
        data: segments(list),
        showLine: true,
        spanGaps: false,
        borderColor: color,
        borderWidth: width,
        pointRadius: 0,
        order: order
    };
}

function roll(list, color, edge, order) {
    return {
        data: toPoints(list),
        backgroundColor: color,
        borderColor: edge,
        borderWidth: 1.3,
        pointRadius: 4,
        order: order
    };
}

const rollTickPlugin = {
    id: 'rollTicks',
    afterDatasetsDraw(chart) {
        const ctx = chart.ctx;
        ctx.save();
        ctx.font = '14.6px "' + FONT + '"';
        ctx.fillStyle = '#111';
        ctx.textAlign = 'center';
        ctx.textBaseline = 'middle';
        rollTickLabels.forEach((t, i) => {
            const spot = rollTickSpots[i];
            ctx.fillText(t, chart.scales.x.getPixelForValue(spot[0]), chart.scales.y.getPixelForValue(spot[1]));
        });
        ctx.restore();
    }
};

new Chart(makeCanvas('spiral', 155, 488, 580, 429), {
    type: 'scatter',
    data: {
        datasets: [
            pane(paneBack, '#f3f3f3', 100),
            pane(paneLeft, '#fafafa', 99),
            pane(paneFloor, '#f7f7f7', 98),
            lines(roomGrid, '#c8c8c8', 1, 90),
            lines(roomAxes, '#000', 1, 85),
            roll(rollOrangeFar, 'rgba(255,148,0,0.35)', 'rgba(0,0,0,0.14)', 70),
            roll(rollRedFar, 'rgba(128,0,0,0.35)', 'rgba(0,0,0,0.14)', 69),
            roll(rollBlueFar, 'rgba(0,0,255,0.35)', 'rgba(0,0,0,0.14)', 68),
            roll(rollOrangeMid, 'rgba(255,148,0,0.7)', 'rgba(0,0,0,0.5)', 65),
            roll(rollRedMid, 'rgba(128,0,0,0.7)', 'rgba(0,0,0,0.5)', 64),
            roll(rollBlueMid, 'rgba(0,0,255,0.7)', 'rgba(0,0,0,0.5)', 63),
            roll(rollOrangeNear, '#ff9400', '#000', 60),
            roll(rollRedNear, DARK_RED, '#000', 59),
            roll(rollBlueNear, '#0000ff', '#000', 58)
        ]
    },
    options: {
        responsive: false,
        animation: false,
        events: [],
        layout: { padding: 0 },
        plugins: { legend: { display: false }, tooltip: { enabled: false } },
        scales: {
            x: { type: 'linear', min: -18.35, max: 18.11, display: false },
            y: { type: 'linear', min: -22.56, max: 17.36, display: false }
        }
    },
    plugins: [rollTickPlugin]
});
</script>
</body>
</html>
